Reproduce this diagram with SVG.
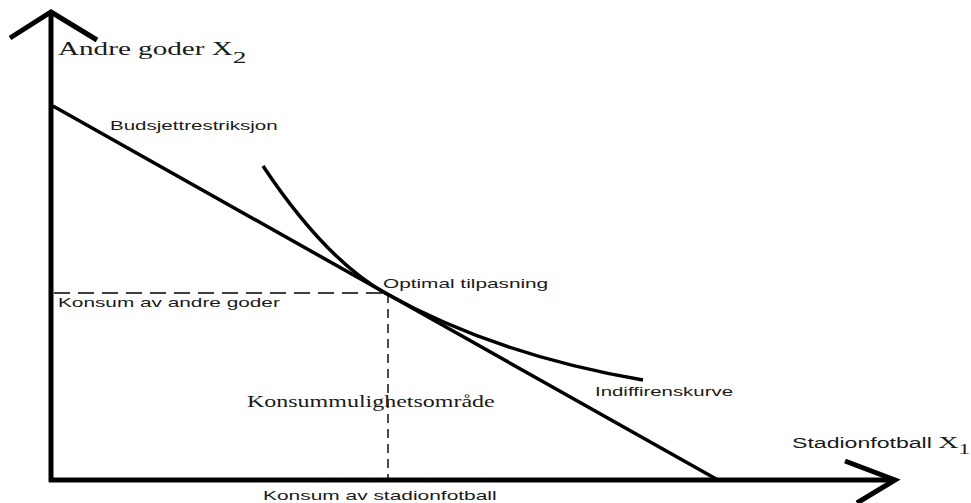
<svg xmlns="http://www.w3.org/2000/svg" width="971" height="503" viewBox="0 0 971 503">
<style>
.axis{stroke:#000;stroke-width:5;fill:none;stroke-linecap:butt;stroke-linejoin:miter}
.line{stroke:#000;stroke-width:3.5;fill:none}
.dash{stroke:#000;stroke-width:1.4;fill:none}
.sans{font-family:"Liberation Sans",Arial,sans-serif;font-size:13px;fill:#1a1a1a}
.serif{font-family:"Liberation Serif","Times New Roman",serif;fill:#1a1a1a}
</style>
<rect width="971" height="503" fill="#fff"/>
<g id="connectors">
<path id="y-axis" class="axis" d="M51,482 V14"/>
<path id="y-arrow" class="axis" d="M10,38 L51,12 L97,40"/>
<path id="x-axis" class="axis" d="M49,480 H893"/>
<path id="x-arrow" class="axis" d="M845,461 L895,480 L857,503"/>
<path id="budget" class="line" d="M53,106 L718,480"/>
<path id="indifference" class="line" d="M263,166 Q325,259 385,293 Q496,355 643,380"/>
<path id="h-dash" class="dash" stroke-dasharray="16 8" d="M54,293 H386"/>
<path id="v-dash" class="dash" stroke-dasharray="9 6" d="M388,294 V478"/>
</g>
<g id="label-y">
<text class="serif" font-size="18" transform="translate(58,55) scale(1.62,1)">Andre goder X<tspan dy="8" font-size="17">2</tspan></text>
</g>
<g id="label-budget">
<text class="sans" transform="translate(110,130) scale(1.58,1)">Budsjettrestriksjon</text>
</g>
<g id="label-konsum-andre">
<text class="sans" transform="translate(58,307) scale(1.6,1)">Konsum av andre goder</text>
</g>
<g id="label-optimal">
<text class="sans" transform="translate(383,288) scale(1.6,1)">Optimal tilpasning</text>
</g>
<g id="label-indiff">
<text class="sans" transform="translate(595,396) scale(1.57,1)">Indiffirenskurve</text>
</g>
<g id="label-omrade">
<text class="serif" font-size="16" transform="translate(247,407) scale(1.5,1)">Konsummulighetsområde</text>
</g>
<g id="label-konsum-stadion">
<text class="sans" transform="translate(263,500) scale(1.61,1)">Konsum av stadionfotball</text>
</g>
<g id="label-x">
<text class="sans" font-size="14" transform="translate(792,448) scale(1.65,1)" style="font-size:14px">Stadionfotball <tspan class="serif" style="font-size:17px">X</tspan><tspan class="serif" dy="6" style="font-size:14px">1</tspan></text>
</g>
</svg>
